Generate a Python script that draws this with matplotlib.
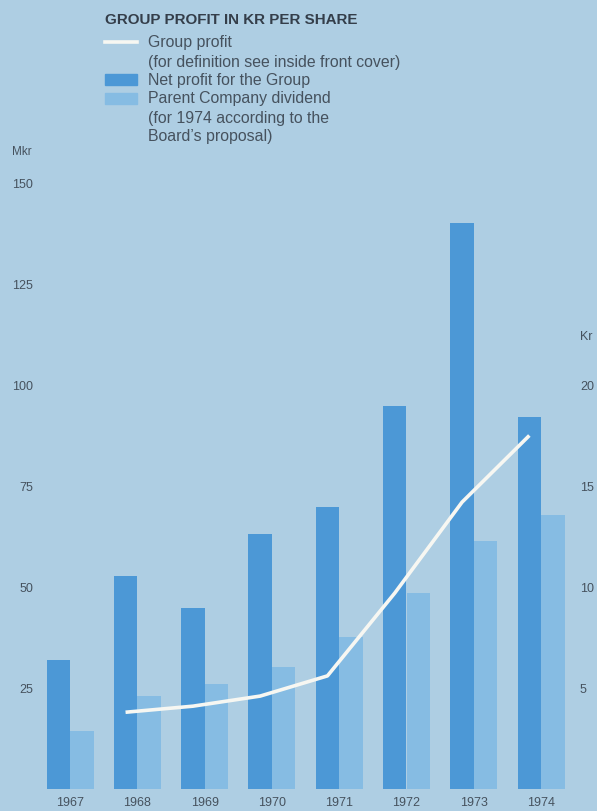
import matplotlib
matplotlib.use("Agg")
import matplotlib.pyplot as plt
from matplotlib.patches import Rectangle
from matplotlib.lines import Line2D
import numpy as np

years = ["1967", "1968", "1969", "1970", "1971", "1972", "1973", "1974"]
net_profit = [32.0, 52.7, 44.9, 63.1, 69.7, 94.9, 140.2, 92.0]      # Mkr
dividend = [14.4, 23.0, 26.0, 30.3, 37.6, 48.5, 61.5, 67.7]         # Mkr
line_years = ["1968", "1969", "1970", "1971", "1972", "1973", "1974"]
group_profit_kr = [3.8, 4.1, 4.6, 5.6, 9.7, 14.2, 17.5]            # Kr per share
left_ticks = [25, 50, 75, 100, 125, 150]
right_ticks = [5, 10, 15, 20]

BG = "#aecee3"
DARK = "#4c98d6"
LIGHT = "#86bce3"
TXT = "#46525e"

W, H = 597, 812
fig = plt.figure(figsize=(W / 100, H / 100), dpi=100, facecolor=BG)
plt.rcParams["font.family"] = ["Liberation Sans", "DejaVu Sans"]

bottom_px, top_px = 790, 184
ax = fig.add_axes([0, (H - bottom_px) / H, 1, (bottom_px - top_px) / H])
ax.set_facecolor("none")
period = 67.3
first_center = 70
ax.set_xlim(-first_center / period, (W - first_center) / period)
ax.set_ylim(0, 150)

x = np.arange(len(years))
bw = 23.5 / period
ax.bar(x - bw / 2, net_profit, width=bw, color=DARK, zorder=2)
ax.bar(x + bw / 2, dividend, width=bw, color=LIGHT, zorder=2)

for s in ax.spines.values():
    s.set_visible(False)
ax.set_yticks(left_ticks)
ax.set_yticklabels([str(t) for t in left_ticks])
ax.tick_params(axis="y", length=0, pad=-33 * 0.72, labelsize=9, labelcolor=TXT)
ax.set_xticks(x)
ax.set_xticklabels(years)
ax.tick_params(axis="x", length=0, pad=5, labelsize=9, labelcolor=TXT)

ax2 = ax.twinx()
ax2.set_ylim(0, 30)
for s in ax2.spines.values():
    s.set_visible(False)
ax2.set_yticks(right_ticks)
ax2.set_yticklabels([str(t) for t in right_ticks])
ax2.tick_params(axis="y", length=0, pad=-17 * 0.72, labelsize=9, labelcolor=TXT)
for lbl in ax2.get_yticklabels():
    lbl.set_horizontalalignment("left")

lx = [years.index(y) - bw / 2 for y in line_years]
ax2.plot(lx, group_profit_kr, color="#f7f7f2", lw=2.6, solid_capstyle="butt", zorder=5)

# axis unit labels
fig.text(12 / W, 1 - 152 / H, "Mkr", fontsize=8.5, color=TXT, va="center", ha="left")
fig.text(580 / W, 1 - 337 / H, "Kr", fontsize=9, color=TXT, va="center", ha="left")

# title and legend
fig.text(105 / W, 1 - 20 / H, "GROUP PROFIT IN KR PER SHARE", fontsize=10.9,
         fontweight="bold", color="#343e4a", va="center", ha="left")
leg_lines = [
    (43, "Group profit"),
    (62, "(for definition see inside front cover)"),
    (80, "Net profit for the Group"),
    (99, "Parent Company dividend"),
    (118, "(for 1974 according to the"),
    (137, "Board\u2019s proposal)"),
]
for ypx, t in leg_lines:
    fig.text(148 / W, 1 - ypx / H, t, fontsize=11.4, color=TXT, va="center", ha="left")

fig.add_artist(Line2D([105 / W, 137 / W], [1 - 43 / H, 1 - 43 / H],
                      color="#f7f7f2", lw=2.6, transform=fig.transFigure))
fig.add_artist(Rectangle((105 / W, 1 - 86 / H), 32 / W, 11 / H,
                         color=DARK, transform=fig.transFigure))
fig.add_artist(Rectangle((105 / W, 1 - 105 / H), 32 / W, 11 / H,
                         color=LIGHT, transform=fig.transFigure))

fig.savefig("out.png", dpi=100, facecolor=BG)
